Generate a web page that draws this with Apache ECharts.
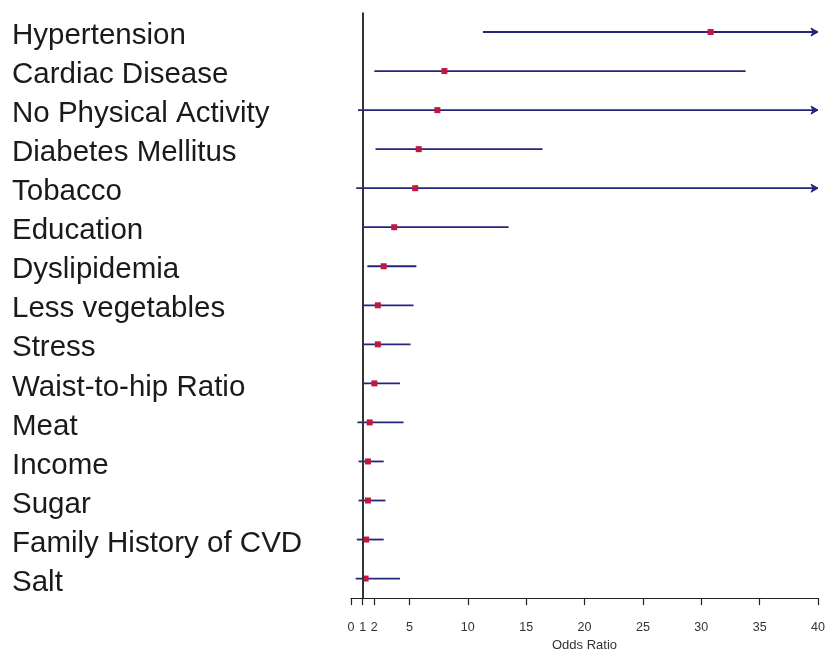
<!DOCTYPE html>
<html>
<head>
<meta charset="utf-8">
<title>Odds Ratio Forest Plot</title>
<script src="https://cdn.jsdelivr.net/npm/echarts@6/dist/echarts.min.js"></script>
<style>
  html, body { margin: 0; padding: 0; background: #ffffff; }
  #chart { width: 829px; height: 657px; }
</style>
</head>
<body>
<div id="chart"></div>
<script>
// Risk factors, top to bottom
const factors = [
  'Hypertension', 'Cardiac Disease', 'No Physical Activity', 'Diabetes Mellitus',
  'Tobacco', 'Education', 'Dyslipidemia', 'Less vegetables', 'Stress',
  'Waist-to-hip Ratio', 'Meat', 'Income', 'Sugar', 'Family History of CVD', 'Salt'
];
// Point estimates of the odds ratio
const oddsRatio = [30.8, 8.0, 7.4, 5.8, 5.5, 3.7, 2.8, 2.3, 2.3, 2.0, 1.6, 1.45, 1.45, 1.3, 1.25];
// Lower confidence limits
const ciLower = [11.3, 2.0, 0.6, 2.1, 0.45, 1.05, 1.4, 1.05, 1.05, 1.05, 0.55, 0.65, 0.65, 0.5, 0.4];
// Upper confidence limits (Infinity = beyond the plotted range, drawn as an arrow)
const ciUpper = [Infinity, 33.8, Infinity, 16.4, Infinity, 13.5, 5.6, 5.35, 5.1, 4.2, 4.5, 2.8, 2.95, 2.8, 4.2];
// Tick values shown on the odds ratio axis
const tickValues = [0, 1, 2, 5, 10, 15, 20, 25, 30, 35, 40];

const AXIS_MAX = 40;
const LINE_COLOR = '#25257c';
const BOX_COLOR = '#c2173f';

const rows = factors.map((name, i) => [oddsRatio[i], i, ciLower[i], ciUpper[i]]);

const chart = echarts.init(document.getElementById('chart'), null, { renderer: 'canvas' });

chart.setOption({
  animation: false,
  backgroundColor: '#ffffff',
  grid: { left: 351, right: 11, top: 12.5, bottom: 58.5, containLabel: false },
  xAxis: {
    type: 'value',
    min: 0,
    max: AXIS_MAX,
    position: 'bottom',
    name: 'Odds Ratio',
    nameLocation: 'middle',
    nameGap: 38,
    nameTextStyle: { fontFamily: 'Liberation Sans, Arial, sans-serif', fontSize: 13, color: '#333' },
    axisLine: { show: true, lineStyle: { color: '#222', width: 1.2 } },
    axisTick: { show: true, length: 7, lineStyle: { color: '#222', width: 1.2 }, customValues: tickValues },
    axisLabel: {
      customValues: tickValues,
      margin: 23,
      fontFamily: 'Liberation Sans, Arial, sans-serif',
      fontSize: 12.5,
      color: '#333'
    },
    splitLine: { show: false }
  },
  yAxis: {
    type: 'category',
    data: factors,
    inverse: true,
    axisLine: { show: false },
    axisTick: { show: false },
    splitLine: { show: false },
    axisLabel: {
      align: 'left',
      // a short line box hung from the row centre sets the text slightly below it
      verticalAlign: 'top',
      lineHeight: 8,
      margin: 339,
      fontFamily: 'Liberation Sans, Arial, sans-serif',
      fontSize: 29.5,
      color: '#1a1a1a'
    }
  },
  series: [
    {
      // Reference line at odds ratio = 1
      type: 'line',
      data: [],
      markLine: {
        silent: true,
        symbol: 'none',
        label: { show: false },
        lineStyle: { color: '#333', width: 2, type: 'solid' },
        data: [{ xAxis: 1 }]
      }
    },
    {
      type: 'custom',
      data: rows,
      encode: { x: [0, 2, 3], y: 1 },
      renderItem: function (params, api) {
        const idx = api.value(1);
        const or = api.value(0);
        const lo = api.value(2);
        const hiRaw = api.value(3);
        const clipped = !(hiRaw <= AXIS_MAX);
        const hi = clipped ? AXIS_MAX : hiRaw;
        const pLo = api.coord([lo, idx]);
        const pHi = api.coord([hi, idx]);
        const pOr = api.coord([or, idx]);
        const children = [
          {
            type: 'line',
            shape: { x1: pLo[0], y1: pLo[1], x2: pHi[0], y2: pHi[1] },
            style: { stroke: LINE_COLOR, lineWidth: 1.8 }
          }
        ];
        if (clipped) {
          children.push({
            type: 'polygon',
            shape: { points: [[pHi[0] - 7, pHi[1] - 4], [pHi[0], pHi[1]], [pHi[0] - 7, pHi[1] + 4], [pHi[0] - 5, pHi[1]]] },
            style: { fill: LINE_COLOR, stroke: LINE_COLOR, lineWidth: 1 }
          });
        }
        const s = 6;
        children.push({
          type: 'rect',
          shape: { x: pOr[0] - s / 2, y: pOr[1] - s / 2, width: s, height: s },
          style: { fill: BOX_COLOR }
        });
        return { type: 'group', children: children };
      },
      z: 3
    }
  ]
});
</script>
</body>
</html>
